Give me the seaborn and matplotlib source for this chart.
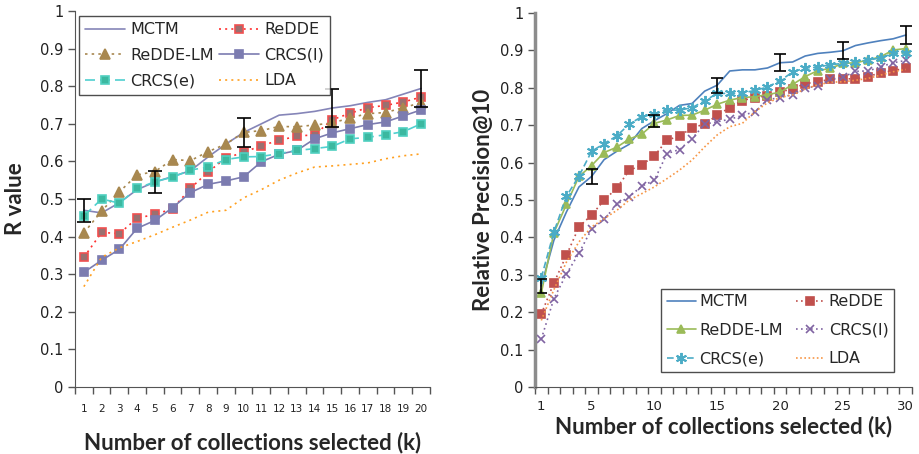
import matplotlib.pyplot as plt
import pandas as pd
import seaborn as sns

# Left panel: R value for k = 1..20
k_left = list(range(1, 21))
r_mctm = [0.470, 0.463, 0.490, 0.525, 0.545, 0.560, 0.575, 0.612, 0.646, 0.677, 0.700, 0.723,
          0.727, 0.733, 0.742, 0.748, 0.757, 0.764, 0.779, 0.794]
r_redde = [0.345, 0.411, 0.408, 0.449, 0.459, 0.474, 0.528, 0.572, 0.609, 0.624, 0.642, 0.656,
           0.667, 0.671, 0.711, 0.728, 0.743, 0.749, 0.758, 0.771]
r_redde_lm = [0.410, 0.468, 0.519, 0.564, 0.573, 0.605, 0.602, 0.626, 0.646, 0.677, 0.682, 0.693,
              0.692, 0.697, 0.702, 0.716, 0.727, 0.730, 0.743, 0.756]
r_crcs_l = [0.305, 0.337, 0.366, 0.422, 0.443, 0.477, 0.517, 0.539, 0.548, 0.559, 0.599, 0.619,
            0.629, 0.660, 0.676, 0.687, 0.698, 0.705, 0.721, 0.737]
r_crcs_e = [0.455, 0.500, 0.489, 0.528, 0.546, 0.558, 0.577, 0.585, 0.605, 0.612, 0.613, 0.621,
            0.629, 0.634, 0.640, 0.660, 0.664, 0.671, 0.679, 0.700]
r_lda = [0.267, 0.345, 0.370, 0.387, 0.405, 0.425, 0.444, 0.465, 0.470, 0.503, 0.525, 0.550,
         0.569, 0.585, 0.588, 0.592, 0.596, 0.607, 0.615, 0.620]
r_err_k = [1, 5, 10, 15, 20]
r_err = [0.030, 0.030, 0.039, 0.050, 0.050]

# Right panel: Relative Precision@10 for k = 1..30
k_right = list(range(1, 31))
p_mctm = [0.270, 0.392, 0.468, 0.535, 0.563, 0.608, 0.630, 0.649, 0.691, 0.712, 0.731, 0.753,
          0.758, 0.791, 0.807, 0.845, 0.848, 0.848, 0.853, 0.867, 0.869, 0.885, 0.892, 0.895,
          0.899, 0.913, 0.920, 0.926, 0.931, 0.941]
p_redde = [0.195, 0.278, 0.352, 0.428, 0.460, 0.499, 0.532, 0.579, 0.594, 0.618, 0.660, 0.671,
           0.693, 0.703, 0.727, 0.747, 0.766, 0.774, 0.779, 0.788, 0.798, 0.811, 0.816, 0.823,
           0.824, 0.824, 0.830, 0.840, 0.846, 0.852]
p_redde_lm = [0.251, 0.412, 0.488, 0.563, 0.592, 0.627, 0.641, 0.663, 0.676, 0.705, 0.714, 0.726,
              0.727, 0.740, 0.756, 0.767, 0.774, 0.776, 0.782, 0.788, 0.809, 0.830, 0.846, 0.852,
              0.865, 0.867, 0.874, 0.883, 0.901, 0.905]
p_crcs_l = [0.128, 0.236, 0.302, 0.358, 0.422, 0.448, 0.488, 0.509, 0.537, 0.553, 0.624, 0.635,
            0.664, 0.703, 0.709, 0.716, 0.726, 0.736, 0.768, 0.774, 0.782, 0.800, 0.804, 0.823,
            0.828, 0.844, 0.845, 0.856, 0.867, 0.873]
p_crcs_e = [0.292, 0.414, 0.510, 0.564, 0.630, 0.651, 0.671, 0.703, 0.723, 0.730, 0.741, 0.740,
            0.747, 0.765, 0.785, 0.785, 0.786, 0.793, 0.802, 0.819, 0.842, 0.853, 0.855, 0.862,
            0.865, 0.870, 0.874, 0.880, 0.892, 0.894]
p_lda = [0.178, 0.260, 0.334, 0.388, 0.428, 0.450, 0.472, 0.500, 0.517, 0.535, 0.557, 0.580,
         0.607, 0.642, 0.674, 0.696, 0.705, 0.736, 0.760, 0.774, 0.781, 0.797, 0.808, 0.815,
         0.816, 0.820, 0.825, 0.834, 0.843, 0.849]
p_err_k = [1, 5, 10, 15, 20, 25, 30]
p_err = [0.018, 0.019, 0.016, 0.020, 0.023, 0.023, 0.025]
p_tick_k = [1, 5, 10, 15, 20, 25, 30]

y_ticks = [i / 10 for i in range(11)]
y_tick_labels = ['0', '0.1', '0.2', '0.3', '0.4', '0.5', '0.6', '0.7', '0.8', '0.9', '1']

sns.set_style('white')
plt.rcParams['font.family'] = ['DejaVu Sans']
label_font = {'family': 'Lato', 'size': 16, 'weight': 'bold'}

fig = plt.figure(figsize=(9.2, 4.54), dpi=100)
ax1 = fig.add_axes([75 / 920, 67 / 454, 355 / 920, 376 / 454])
ax2 = fig.add_axes([535 / 920, 67 / 454, 377 / 920, 374 / 454])


def draw(ax, k, y, label, color, ls, marker=None, ms=6, mfc=None, mec=None, lw=1.2, mew=1.2):
    sns.lineplot(x=k, y=y, ax=ax, label=label, color=color, linestyle=ls, linewidth=lw,
                 marker=marker, markersize=ms,
                 markerfacecolor=mfc if mfc else color,
                 markeredgecolor=mec if mec else color, markeredgewidth=mew)


def row_legend(ax, **kw):
    # fill the two-column legend row by row, as in the original
    h, l = ax.get_legend_handles_labels()
    order = [0, 2, 4, 1, 3, 5]
    return ax.legend([h[i] for i in order], [l[i] for i in order], ncol=2, frameon=True,
                     fancybox=False, edgecolor='#222222', borderaxespad=0, **kw)


# Left panel
draw(ax1, k_left, r_mctm, 'MCTM', '#8585b8', '-')
draw(ax1, k_left, r_redde, 'ReDDE', '#ff3030', (0, (1.2, 2.5)), 's', 6, '#9a7070', '#f05050')
draw(ax1, k_left, r_redde_lm, 'ReDDE-LM', '#a88850', (0, (1.5, 2.5)), '^', 7)
draw(ax1, k_left, r_crcs_l, 'CRCS(l)', '#7c7cb0', '-', 's', 6)
draw(ax1, k_left, r_crcs_e, 'CRCS(e)', '#50d0d0', (0, (6, 3)), 's', 6, '#3cb8a0', '#50d0c0')
draw(ax1, k_left, r_lda, 'LDA', '#ffa020', (0, (1.2, 2.5)))
err_y = [r_mctm[k_left.index(k)] for k in r_err_k]
ax1.errorbar(r_err_k, err_y, yerr=r_err, fmt='none', ecolor='black', elinewidth=1.2,
             capsize=5, capthick=1.2)

ax1.set_xlim(0.5, 20.5)
ax1.set_xticks(k_left)
ax1.set_xticklabels([str(k) for k in k_left], fontsize=7.5)
ax1.set_xticks([k + 0.5 for k in range(0, 21)], minor=True)
row_legend(ax1, loc='upper left', bbox_to_anchor=(4 / 355, 371 / 376), fontsize=11.5,
           handlelength=2.5, columnspacing=0.35, labelspacing=0.66, borderpad=0.4,
           handletextpad=0.3)
ax1.set_ylabel('R value', fontdict=label_font, labelpad=10)
ax1.set_xlabel('Number of collections selected (k)', fontdict=label_font, labelpad=13)

# Right panel
draw(ax2, k_right, p_mctm, 'MCTM', '#4f81bd', '-')
draw(ax2, k_right, p_redde, 'ReDDE', '#c0504d', (0, (1, 2)), 's', 6)
draw(ax2, k_right, p_redde_lm, 'ReDDE-LM', '#9bbb59', '-', '^', 6)
draw(ax2, k_right, p_crcs_l, 'CRCS(l)', '#8064a2', (0, (1, 2)), 'x', 6)
draw(ax2, k_right, p_crcs_e, 'CRCS(e)', '#4bacc6', (0, (4, 2)), (6, 2, 0), 8, mew=1.4)
draw(ax2, k_right, p_lda, 'LDA', '#f79646', (0, (1, 1.5)))
err_y = [p_mctm[k_right.index(k)] for k in p_err_k]
ax2.errorbar(p_err_k, err_y, yerr=p_err, fmt='none', ecolor='black', elinewidth=1.2,
             capsize=4, capthick=1.2)

ax2.set_xlim(0.5, 30.5)
ax2.set_xticks(p_tick_k)
ax2.set_xticklabels([str(k) for k in p_tick_k], fontsize=9.5)
ax2.set_xticks([k + 0.5 for k in range(0, 31)], minor=True)
row_legend(ax2, loc='lower right', bbox_to_anchor=(359 / 377, 15 / 374), fontsize=11.5,
           handlelength=1.8, columnspacing=0.8, labelspacing=0.85, borderpad=0.35,
           handletextpad=0.25)
ax2.set_ylabel('Relative Precision@10', fontdict=label_font, labelpad=4)
ax2.set_xlabel('Number of collections selected (k)', fontdict=label_font, labelpad=2)

for ax in (ax1, ax2):
    ax.set_ylim(0, 1)
    ax.set_yticks(y_ticks)
    ax.set_yticklabels(y_tick_labels, fontsize=10.5)
    for s in ('top', 'right'):
        ax.spines[s].set_visible(False)
    ax.spines['bottom'].set_color('#555555')
    ax.spines['left'].set_color('#555555')
    ax.tick_params(axis='y', which='major', direction='out', length=5, width=1,
                   color='#555555', left=True, labelcolor='#222222')
    ax.tick_params(axis='x', which='minor', direction='out', length=5, width=1,
                   color='#555555', bottom=True)

ax1.tick_params(axis='x', which='major', length=0, pad=12, labelcolor='#222222')
ax2.tick_params(axis='x', which='major', length=0, pad=9, labelcolor='#222222')
ax2.spines['left'].set_color('#8c8c8c')
ax2.spines['left'].set_linewidth(2.5)

fig.savefig('out.png', dpi=100)
